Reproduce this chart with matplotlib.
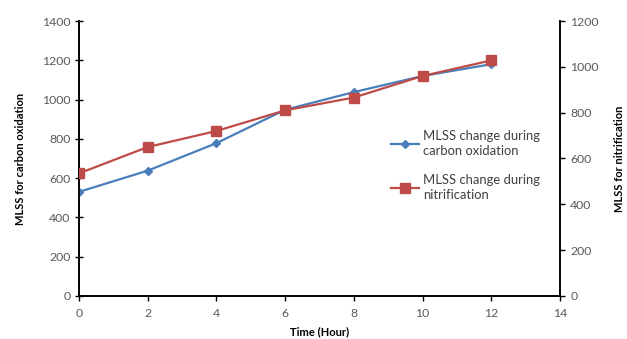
import matplotlib
matplotlib.use("Agg")
import matplotlib.pyplot as plt

hours = [0, 2, 4, 6, 8, 10, 12]
carbon_mlss = [530, 638, 778, 948, 1038, 1120, 1180]
nitri_mlss = [535, 650, 720, 810, 866, 960, 1028]

x_ticks = [0, 2, 4, 6, 8, 10, 12, 14]
left_ticks = [0, 200, 400, 600, 800, 1000, 1200, 1400]
right_ticks = [0, 200, 400, 600, 800, 1000, 1200]

plt.rcParams['font.family'] = ['Lato', 'DejaVu Sans']

blue = '#4A7EBB'
red = '#BE4B48'
tick_col = '#595959'

fig = plt.figure(figsize=(6.27, 3.39), dpi=100)
ax = fig.add_axes([0.126, 0.127, 0.767, 0.811])
ax2 = ax.twinx()

l1, = ax.plot(hours, carbon_mlss, color=blue, lw=1.6, marker='D', ms=4.5,
              mfc=blue, mec=blue, label='MLSS change during\ncarbon oxidation', zorder=3)
l2, = ax2.plot(hours, nitri_mlss, color=red, lw=1.6, marker='s', ms=7,
               mfc=red, mec=red, label='MLSS change during\nnitrification', zorder=3)

ax.set_xlim(0, 14)
ax.set_ylim(0, 1400)
ax2.set_ylim(0, 1200)
ax.set_xticks(x_ticks)
ax.set_yticks(left_ticks)
ax2.set_yticks(right_ticks)

for a in (ax, ax2):
    a.spines['top'].set_visible(False)
    for s in ('left', 'right', 'bottom'):
        a.spines[s].set_color('black')
        a.spines[s].set_linewidth(1.2)
    a.tick_params(labelsize=8.8, labelcolor=tick_col, length=3.5, width=1, color='black')

ax.tick_params(axis='y', direction='inout', length=6, pad=3)
ax.tick_params(axis='x', direction='out', pad=5)
ax2.tick_params(axis='y', direction='out', pad=4)

ax.set_xlabel('Time (Hour)', fontsize=8, fontweight='bold', labelpad=5)
ax.set_ylabel('MLSS for carbon oxidation', fontsize=8, fontweight='bold', labelpad=12)
ax2.set_ylabel('MLSS for nitrification', fontsize=8, fontweight='bold', labelpad=11)

leg = ax.legend(handles=[l1, l2], loc='upper left', bbox_to_anchor=(0.637, 0.622),
                frameon=False, fontsize=9.4, handlelength=2.2, labelspacing=1.3,
                handletextpad=0.3, borderaxespad=0)
for t in leg.get_texts():
    t.set_color('#404040')
    t.set_linespacing(1.3)

fig.savefig('out.png', dpi=100)
